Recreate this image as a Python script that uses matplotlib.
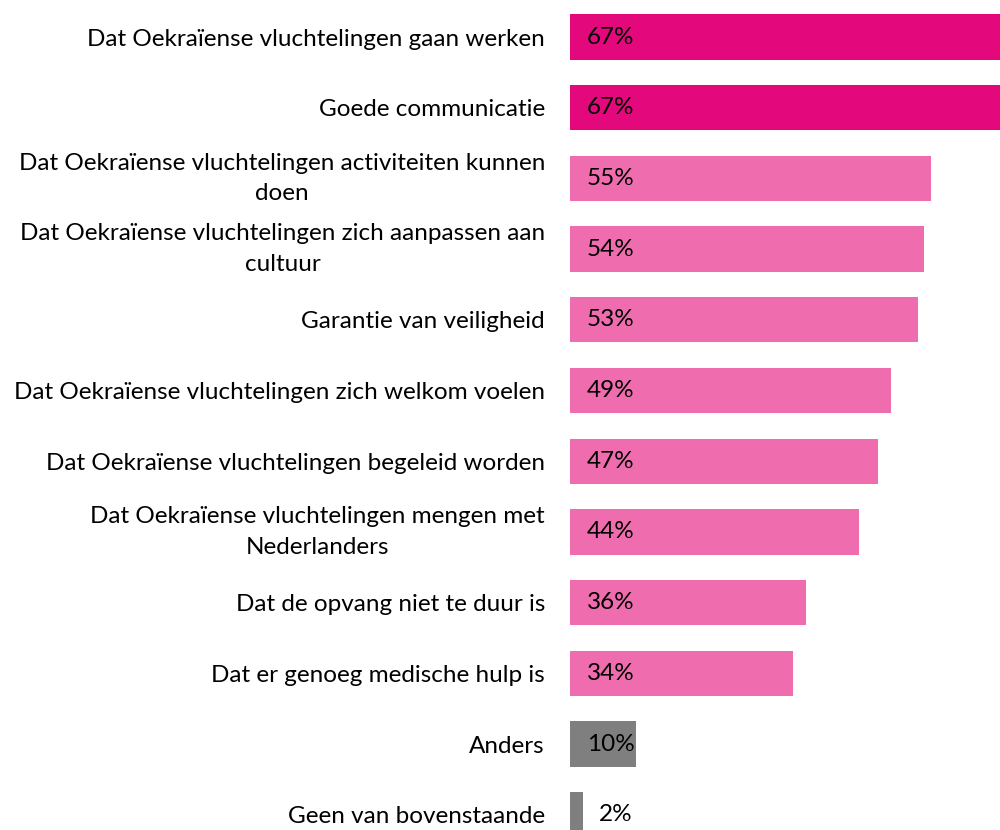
import matplotlib
matplotlib.use('Agg')
import matplotlib.pyplot as plt

labels = [
    'Dat Oekraïense vluchtelingen gaan werken',
    'Goede communicatie',
    'Dat Oekraïense vluchtelingen activiteiten kunnen\ndoen',
    'Dat Oekraïense vluchtelingen zich aanpassen aan\ncultuur',
    'Garantie van veiligheid',
    'Dat Oekraïense vluchtelingen zich welkom voelen',
    'Dat Oekraïense vluchtelingen begeleid worden',
    'Dat Oekraïense vluchtelingen mengen met\nNederlanders',
    'Dat de opvang niet te duur is',
    'Dat er genoeg medische hulp is',
    'Anders',
    'Geen van bovenstaande',
]
values = [67, 67, 55, 54, 53, 49, 47, 44, 36, 34, 10, 2]
colors = ['#E4087D'] * 2 + ['#EF6DAE'] * 8 + ['#7F7F7F'] * 2

plt.rcParams['font.family'] = ['Lato', 'DejaVu Sans']

fig = plt.figure(figsize=(10, 8.3), dpi=100)
# px per % ~6.56, rows ~70.7 px apart; axes runs past the figure edges (clipped like the original)
ax = fig.add_axes([0.57, 1 - 37/830 - 11.5*70.7/830, 70*6.56/1000, 12*70.7/830])

ypos = list(range(len(values)))
ax.barh(ypos, values, height=0.64, color=colors)
ax.set_xlim(0, 70)
ax.set_ylim(11.5, -0.5)

ax.set_yticks(ypos)
ax.set_yticklabels(labels, fontsize=17.5, multialignment='center', linespacing=1.55)
for t in ax.get_yticklabels():
    if '\n' in t.get_text():
        t.set_va('center')
ax.tick_params(axis='y', length=0, pad=18)
ax.set_xticks([])
for s in ax.spines.values():
    s.set_visible(False)

for y, v in zip(ypos, values):
    if v > 5:
        ax.annotate('%d%%' % v, (0, y), xytext=(12, 0), textcoords='offset points',
                    va='center', ha='left', fontsize=17.5)
    else:
        ax.annotate('%d%%' % v, (v, y), xytext=(11, 0), textcoords='offset points',
                    va='center', ha='left', fontsize=17.5)

fig.savefig('out.png', dpi=100)
